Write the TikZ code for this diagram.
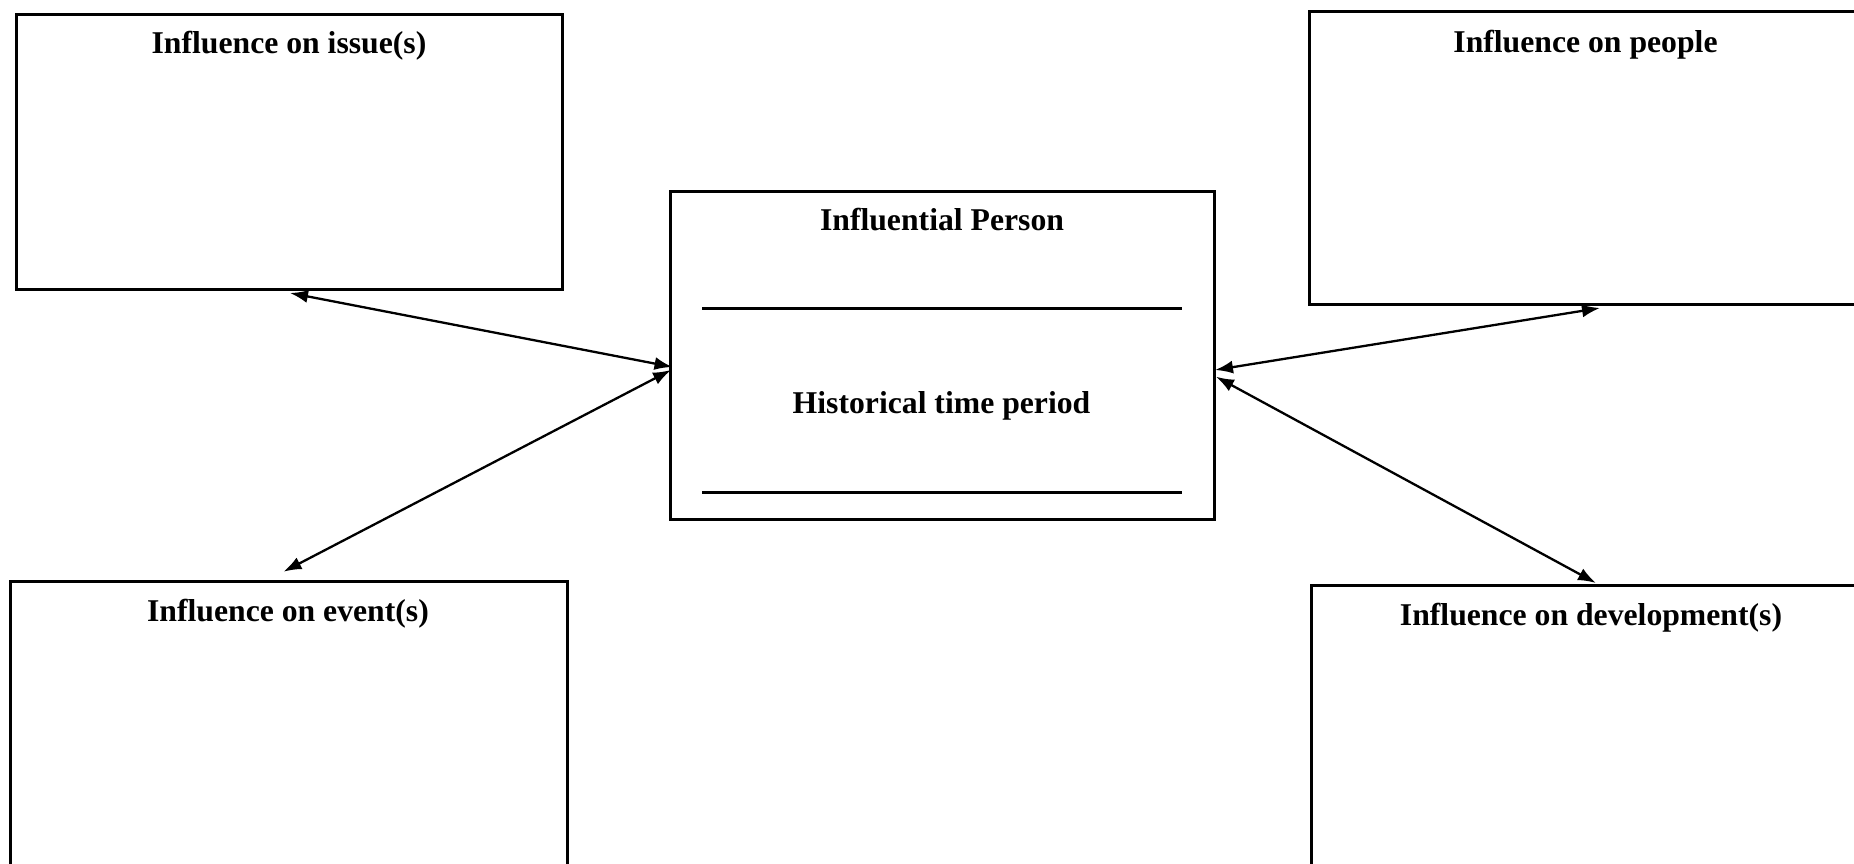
\documentclass[tikz,border=0pt]{standalone}
\usepackage{fontspec}
\setmainfont{Liberation Serif}
\usetikzlibrary{arrows.meta}
\begin{document}
\begin{tikzpicture}[x=0.5pt,y=-0.5pt,
  box/.style={draw, line width=1.5pt, rectangle, inner sep=0pt, outer sep=0pt},
  lbl/.style={anchor=base, inner sep=0pt, font=\fontsize{15.85}{19}\selectfont\bfseries},
  rule/.style={line width=1.5pt},
  link/.style={line width=1.15pt, {Latex[length=9pt,width=6.5pt]}-{Latex[length=9pt,width=6.5pt]}}]
\useasboundingbox[fill=white] (0,0) rectangle (1854,863);
% boxes
\node[box, minimum width=273pt, minimum height=137.65pt] (issue) at (289.5,151.7) {};
\node[box, minimum width=280.5pt, minimum height=146.15pt] (people) at (1589.5,157.9) {};
\node[box, minimum width=271.7pt, minimum height=163.65pt] (center) at (942.3,355.35) {};
\node[box, minimum width=278.5pt, minimum height=149.5pt] (event) at (288.5,730.5) {};
\node[box, minimum width=279.15pt, minimum height=147.5pt] (devel) at (1590.85,732.5) {};
% labels
\node[lbl] (issuet) at (289,53.3) {Influence on issue(s)};
\node[lbl] (peoplet) at (1585.5,52) {Influence on people};
\node[lbl] (persont) at (942,230) {Influential Person};
\node[lbl] (periodt) at (941.5,413) {Historical time period};
\node[lbl] (eventt) at (288,621.7) {Influence on event(s)};
\node[lbl] (develt) at (1591,625) {Influence on development(s)};
% writing lines
\draw[rule] (702.4,308.3) -- (1181.5,308.3);
\draw[rule] (702.4,492.3) -- (1181.5,492.3);
% connector ends
\coordinate (ia) at (290,293);
\coordinate (ca) at (672.5,367);
\coordinate (ea) at (283.5,571.7);
\coordinate (cb) at (671,370);
\coordinate (pa) at (1600,308);
\coordinate (cc) at (1215,370);
\coordinate (da) at (1596,583);
\coordinate (cd) at (1216,376.7);
\draw[link] (ia) -- (ca);
\draw[link] (ea) -- (cb);
\draw[link] (pa) -- (cc);
\draw[link] (da) -- (cd);
\end{tikzpicture}
\end{document}
